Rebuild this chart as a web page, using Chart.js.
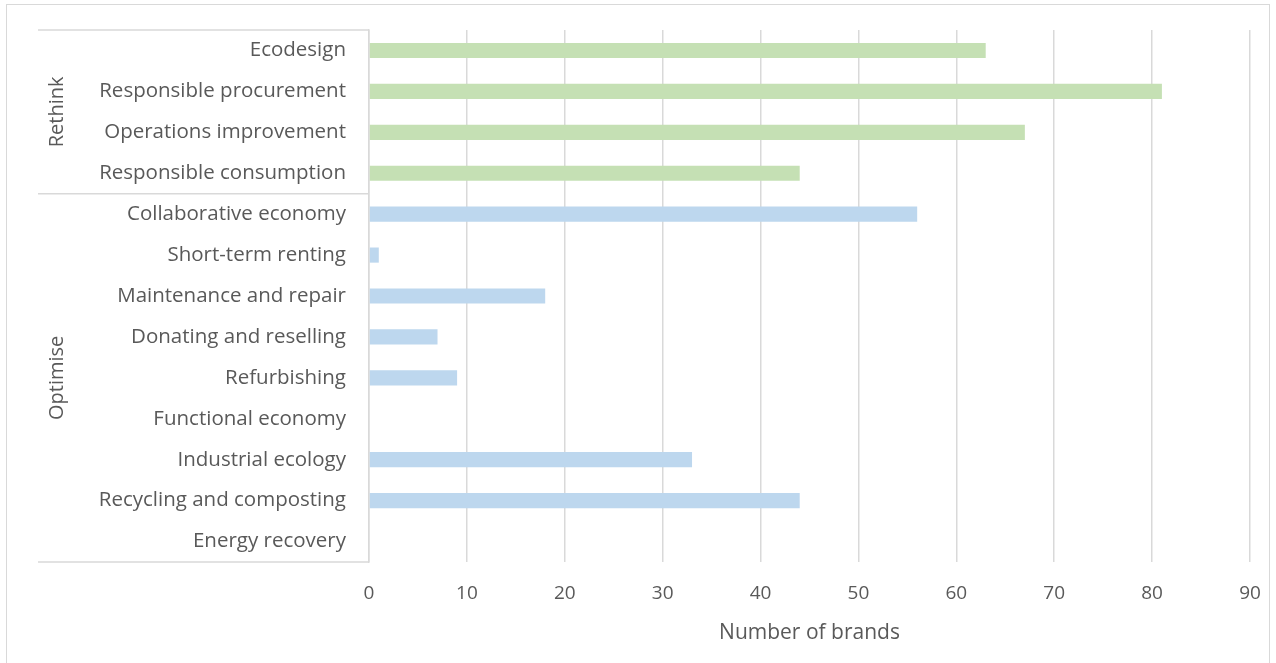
<!DOCTYPE html>
<html lang="en">
<head>
  <meta charset="UTF-8">
  <title>Circular economy practices</title>
  <script src="https://cdn.jsdelivr.net/npm/chart.js"></script>
</head>
<body style="margin:0;background:#fff;">
  <div style="position:relative;width:1276px;height:663px;overflow:hidden;">
    <div style="position:absolute;left:6px;top:4px;width:1264px;height:680px;border:1px solid #d9d9d9;box-sizing:border-box;"></div>
    <canvas id="brandsChart" width="1276" height="663" style="position:absolute;left:0;top:0;width:1276px;height:663px;"></canvas>
  </div>
  <script>
    // categories, top to bottom
    const categories = [
      'Ecodesign', 'Responsible procurement', 'Operations improvement', 'Responsible consumption',
      'Collaborative economy', 'Short-term renting', 'Maintenance and repair', 'Donating and reselling',
      'Refurbishing', 'Functional economy', 'Industrial ecology', 'Recycling and composting', 'Energy recovery'
    ];
    const brandCounts = [63, 81, 67, 44, 56, 1, 18, 7, 9, 0, 33, 44, 0];
    // group name and how many categories it covers
    const groupNames = ['Rethink', 'Optimise'];
    const groupSizes = [4, 9];
    const groupColors = ['#c5e0b4', '#bdd7ee'];
    const xTicks = [0, 10, 20, 30, 40, 50, 60, 70, 80, 90];

    const FONT = "'Open Sans', sans-serif";
    const TEXT = '#595959';
    const LINE = '#d9d9d9';

    // colour of each bar from its group
    const barColors = [];
    groupSizes.forEach((n, g) => { for (let i = 0; i < n; i++) barColors.push(groupColors[g]); });

    // group boxes + rotated group names on the left
    const groupPlugin = {
      id: 'groups',
      afterDraw(chart) {
        const ctx = chart.ctx;
        const y = chart.scales.y;
        const half = (y.getPixelForValue(1) - y.getPixelForValue(0)) / 2;
        const x0 = 38, x1 = chart.chartArea.left;
        ctx.save();
        ctx.strokeStyle = LINE;
        ctx.lineWidth = 1.5;
        let start = 0;
        const edges = [y.getPixelForValue(0) - half];
        groupSizes.forEach(n => {
          start += n;
          edges.push(y.getPixelForValue(start - 1) + half);
        });
        edges.forEach(e => {
          ctx.beginPath();
          ctx.moveTo(x0, e);
          ctx.lineTo(x1, e);
          ctx.stroke();
        });
        ctx.fillStyle = TEXT;
        ctx.font = '20px ' + FONT;
        ctx.textAlign = 'center';
        ctx.textBaseline = 'middle';
        groupNames.forEach((name, g) => {
          const mid = (edges[g] + edges[g + 1]) / 2;
          ctx.save();
          ctx.translate(57, mid);
          ctx.rotate(-Math.PI / 2);
          ctx.fillText(name, 0, 0);
          ctx.restore();
        });
        ctx.restore();
      }
    };

    new Chart(document.getElementById('brandsChart'), {
      type: 'bar',
      data: {
        labels: categories,
        datasets: [{
          label: 'Number of brands',
          data: brandCounts,
          backgroundColor: barColors,
          borderWidth: 0,
          barPercentage: 0.37,
          categoryPercentage: 1
        }]
      },
      options: {
        indexAxis: 'y',
        responsive: false,
        animation: false,
        layout: { padding: { top: 30, right: 26, left: 0, bottom: 0 } },
        plugins: { legend: { display: false }, tooltip: { enabled: false } },
        scales: {
          x: {
            min: 0, max: 90,
            afterBuildTicks: s => { s.ticks = xTicks.map(v => ({ value: v })); },
            afterFit: s => { s.height = 101; s.paddingLeft = 0; s.paddingRight = 0; },
            grid: { color: LINE, lineWidth: 1.5, drawTicks: false },
            border: { display: false },
            ticks: { color: TEXT, font: { family: FONT, size: 19 }, padding: 20 },
            title: { display: true, text: 'Number of brands', color: TEXT, font: { family: FONT, size: 21 }, padding: { top: 4, bottom: 17 } }
          },
          y: {
            afterFit: s => { s.width = 369; s.paddingTop = 0; s.paddingBottom = 0; },
            grid: { display: false, drawTicks: false },
            border: { display: true, color: LINE, width: 1.5 },
            ticks: { color: TEXT, font: { family: FONT, size: 20.5 }, padding: 23, autoSkip: false }
          }
        }
      },
      plugins: [groupPlugin]
    });
  </script>
</body>
</html>
